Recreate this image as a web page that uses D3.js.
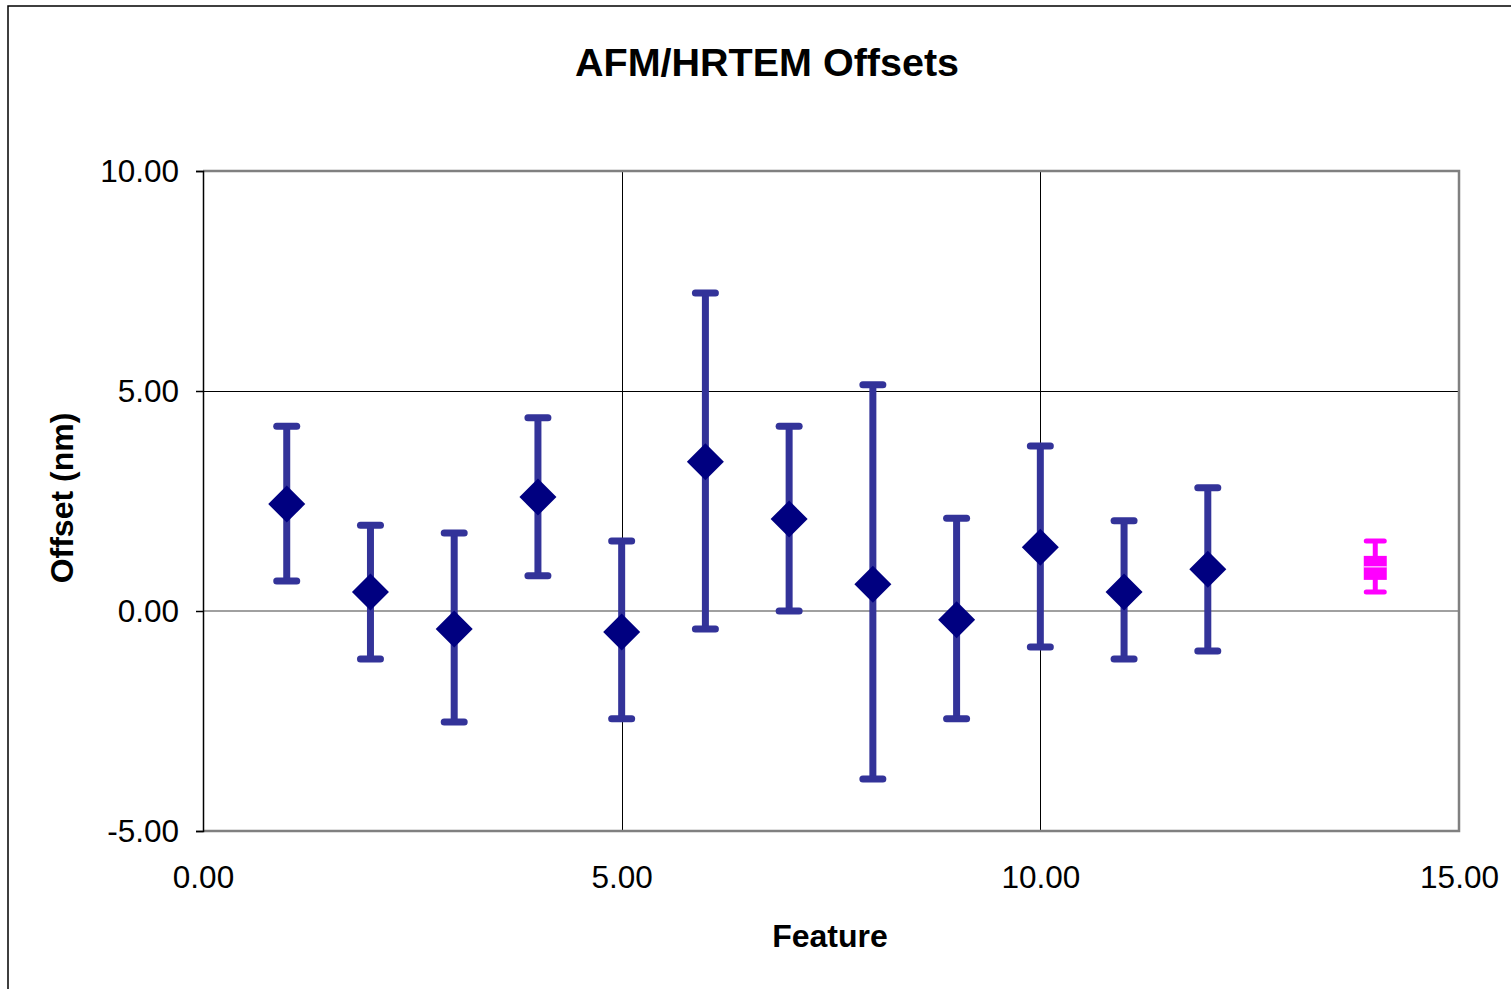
<!DOCTYPE html>
<html>
<head>
<meta charset="utf-8">
<script src="https://cdn.jsdelivr.net/npm/d3@7"></script>
<style>
  body { margin: 0; background: #fff; }
  svg { display: block; font-family: "Liberation Sans", Arial, sans-serif; }
</style>
</head>
<body>
<div id="chart"></div>
<script>
// feature numbers and measured offsets (nm)
const features = [1, 2, 3, 4, 5, 6, 7, 8, 9, 10, 11, 12];
const offsets = [2.43, 0.43, -0.41, 2.59, -0.48, 3.39, 2.09, 0.61, -0.20, 1.45, 0.43, 0.95];
const upper = [4.20, 1.95, 1.77, 4.39, 1.59, 7.23, 4.20, 5.14, 2.11, 3.75, 2.05, 2.80];
const lower = [0.68, -1.09, -2.52, 0.80, -2.45, -0.41, 0.00, -3.82, -2.45, -0.82, -1.09, -0.91];

// overall mean point
const meanX = [14];
const meanY = [0.98];
const meanUpper = [1.59];
const meanLower = [0.43];

const xTicks = [0, 5, 10, 15];
const yTicks = [-5, 0, 5, 10];

const width = 1511, height = 989,
      margin = ({ top: 171, right: 52, bottom: 158, left: 203 });

const fmt = d => d.toFixed(2); // plain hyphen for negatives, like the original

let svg = d3.select("#chart")
    .append("svg")
    .attr("width", width)
    .attr("height", height);

// outer chart border (runs off the right/bottom edge)
svg.append("rect")
    .attr("x", 8).attr("y", 6)
    .attr("width", width + 10).attr("height", height + 10)
    .attr("fill", "none")
    .attr("stroke", "#000")
    .attr("stroke-width", 1.5);

let x = d3.scaleLinear()
    .domain([0, 15])
    .range([margin.left, width - margin.right]);

let y = d3.scaleLinear()
    .domain([-5, 10])
    .range([height - margin.bottom, margin.top]);

// gridlines
svg.append("g")
    .attr("shape-rendering", "crispEdges")
    .selectAll("line")
    .data([5, 10])
    .join("line")
    .attr("x1", d => Math.round(x(d)) + 0.5).attr("x2", d => Math.round(x(d)) + 0.5)
    .attr("y1", y(10)).attr("y2", y(-5))
    .attr("stroke", "#000").attr("stroke-width", 1);

svg.append("g")
    .attr("shape-rendering", "crispEdges")
    .selectAll("line")
    .data([5])
    .join("line")
    .attr("x1", x(0)).attr("x2", x(15))
    .attr("y1", d => Math.round(y(d)) + 0.5).attr("y2", d => Math.round(y(d)) + 0.5)
    .attr("stroke", "#000").attr("stroke-width", 1);

// zero line
svg.append("line")
    .attr("x1", x(0)).attr("x2", x(15))
    .attr("y1", y(0)).attr("y2", y(0))
    .attr("stroke", "#808080").attr("stroke-width", 1.5);

// plot frame (top, right, bottom in grey)
svg.append("path")
    .attr("d", `M${x(0)},${y(10)}H${x(15)}V${y(-5)}H${x(0)}`)
    .attr("fill", "none")
    .attr("stroke", "#808080")
    .attr("stroke-width", 2.5);

// y axis
let yAxis = svg.append("g")
    .attr("transform", `translate(${x(0)},0)`)
    .call(d3.axisLeft(y).tickValues(yTicks).tickFormat(fmt).tickSize(7).tickPadding(17));
yAxis.select(".domain").attr("stroke", "#000").attr("stroke-width", 1.5);
yAxis.selectAll(".tick line").attr("stroke", "#000").attr("stroke-width", 1.5);
yAxis.selectAll("text").attr("font-size", 31.5).attr("fill", "#000")
    .attr("font-family", "Liberation Sans, Arial, sans-serif");

// x axis labels
let xAxis = svg.append("g")
    .attr("transform", `translate(0,${y(-5)})`)
    .call(d3.axisBottom(x).tickValues(xTicks).tickFormat(fmt).tickSize(0).tickPadding(35));
xAxis.select(".domain").remove();
xAxis.selectAll("text").attr("font-size", 31.5).attr("fill", "#000")
    .attr("font-family", "Liberation Sans, Arial, sans-serif");

// error bars
let bars = svg.append("g")
    .selectAll("g")
    .data(features.map((f, i) => ({ f, v: offsets[i], hi: upper[i], lo: lower[i] })))
    .join("g")
    .attr("stroke", "#333399")
    .attr("stroke-linecap", "round");

bars.append("line")
    .attr("x1", d => x(d.f)).attr("x2", d => x(d.f))
    .attr("y1", d => y(d.hi)).attr("y2", d => y(d.lo))
    .attr("stroke-width", 7)
    .attr("stroke-linecap", "butt");

bars.selectAll(".cap")
    .data(d => [d.hi, d.lo].map(v => ({ f: d.f, v })))
    .join("line")
    .attr("class", "cap")
    .attr("x1", d => x(d.f) - 10).attr("x2", d => x(d.f) + 10)
    .attr("y1", d => y(d.v)).attr("y2", d => y(d.v))
    .attr("stroke-width", 7);

// diamond markers
svg.append("g")
    .selectAll("path")
    .data(features.map((f, i) => ({ f, v: offsets[i] })))
    .join("path")
    .attr("d", d => {
        const cx = x(d.f), cy = y(d.v), r = 18.5;
        return `M${cx},${cy - r}L${cx + r},${cy}L${cx},${cy + r}L${cx - r},${cy}Z`;
    })
    .attr("fill", "#000080");

// mean point (magenta)
let mean = svg.append("g")
    .selectAll("g")
    .data(meanX.map((m, i) => ({ f: m, v: meanY[i], hi: meanUpper[i], lo: meanLower[i] })))
    .join("g")
    .attr("stroke", "#ff00ff");

mean.append("line")
    .attr("x1", d => x(d.f)).attr("x2", d => x(d.f))
    .attr("y1", d => y(d.hi)).attr("y2", d => y(d.lo))
    .attr("stroke-width", 5);

mean.selectAll(".cap")
    .data(d => [d.hi, d.lo].map(v => ({ f: d.f, v })))
    .join("line")
    .attr("class", "cap")
    .attr("x1", d => x(d.f) - 9).attr("x2", d => x(d.f) + 9)
    .attr("y1", d => y(d.v)).attr("y2", d => y(d.v))
    .attr("stroke-width", 5)
    .attr("stroke-linecap", "round");

mean.append("rect")
    .attr("x", d => x(d.f) - 11.5).attr("y", d => y(d.v) - 12)
    .attr("width", 23).attr("height", 24)
    .attr("fill", "#ff00ff")
    .attr("stroke", "none");

mean.append("line")
    .attr("x1", d => x(d.f) - 11.5).attr("x2", d => x(d.f) + 11.5)
    .attr("y1", d => y(d.v) - 1).attr("y2", d => y(d.v) - 1)
    .attr("stroke", "#fff").attr("stroke-width", 1);

// titles
svg.append("text")
    .attr("x", 767).attr("y", 76)
    .attr("text-anchor", "middle")
    .attr("font-size", 39.5).attr("font-weight", "bold")
    .text("AFM/HRTEM Offsets");

svg.append("text")
    .attr("x", 830).attr("y", 947)
    .attr("text-anchor", "middle")
    .attr("font-size", 32).attr("font-weight", "bold")
    .text("Feature");

svg.append("text")
    .attr("transform", `translate(73,${(y(10) + y(-5)) / 2 - 3}) rotate(-90)`)
    .attr("text-anchor", "middle")
    .attr("font-size", 32).attr("font-weight", "bold")
    .text("Offset (nm)");
</script>
</body>
</html>
